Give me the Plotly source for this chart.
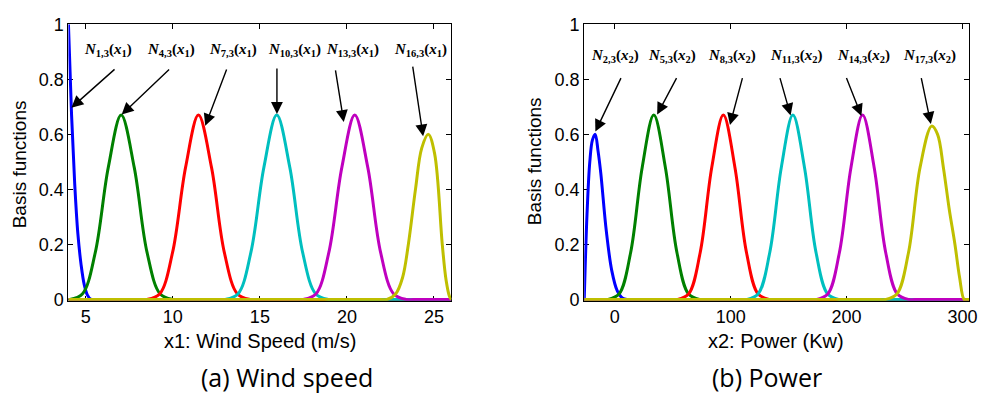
import plotly.graph_objects as go

W, H = 989, 410

# ---------------- data ----------------
# (a) wind speed, x1 domain
x1_range = [4.0, 26.0]
x1_ticks = [5, 10, 15, 20, 25]
bump_y = [0.0, 0.0, 0.02, 0.17, 0.48, 0.67, 0.48, 0.17, 0.02, 0.0, 0.0]

a_blue_x = [4.0, 4.18, 4.36, 4.54, 4.73, 4.91, 5.09, 5.27, 5.45, 5.85, 26.0]
a_blue_y = [1.0, 0.67, 0.42, 0.24, 0.125, 0.053, 0.016, 0.002, 0.0, 0.0, 0.0]
a_green_x = [4.0, 4.05, 4.80, 5.54, 6.29, 7.03, 7.78, 8.52, 9.27, 10.01, 10.41, 26.0]
a_green_y = [0.0] + bump_y[1:] + [0.0]
a_red_x = [4.0, 8.09, 8.49, 9.24, 9.98, 10.73, 11.47, 12.22, 12.96, 13.71, 14.45, 14.85, 26.0]
a_red_y = [0.0] + bump_y + [0.0]
a_cyan_x = [4.0, 12.59, 12.99, 13.74, 14.48, 15.23, 15.97, 16.72, 17.46, 18.21, 18.95, 19.35, 26.0]
a_cyan_y = [0.0] + bump_y + [0.0]
a_mag_x = [4.0, 17.07, 17.47, 18.22, 18.96, 19.71, 20.45, 21.20, 21.94, 22.69, 23.43, 23.83, 26.0]
a_mag_y = [0.0] + bump_y + [0.0]
a_yel_x = [4.0, 21.9, 22.3, 22.8, 23.2, 23.53, 23.94, 24.3, 24.68, 25.04, 25.48, 25.7, 25.9, 26.0]
a_yel_y = [0.0, 0.0, 0.0, 0.02, 0.08, 0.2, 0.4, 0.55, 0.60, 0.53, 0.2, 0.07, 0.01, 0.0]

# (b) power, x2 domain
x2_range = [-26.3, 305.7]
x2_ticks = [0, 100, 200, 300]
b_blue_x = [-26.3, -23.9, -21.5, -19.2, -16.8, -14.4, -12.05, -7.3, -2.55, 2.2, 6.95, 11.7, 16.7, 305.7]
b_blue_y = [0.0, 0.31, 0.50, 0.58, 0.60, 0.54, 0.46, 0.25, 0.105, 0.031, 0.004, 0.0, 0.0, 0.0]
b_green_x = [-26.3, -11.3, -6.3, 3.7, 13.7, 23.7, 33.7, 43.7, 53.7, 63.7, 73.7, 78.7, 305.7]
b_green_y = [0.0] + bump_y + [0.0]
b_red_x = [-26.3, 48.7, 53.7, 63.7, 73.7, 83.7, 93.7, 103.7, 113.7, 123.7, 133.7, 138.7, 305.7]
b_red_y = [0.0] + bump_y + [0.0]
b_cyan_x = [-26.3, 108.7, 113.7, 123.7, 133.7, 143.7, 153.7, 163.7, 173.7, 183.7, 193.7, 198.7, 305.7]
b_cyan_y = [0.0] + bump_y + [0.0]
b_mag_x = [-26.3, 168.8, 173.8, 183.8, 193.8, 203.8, 213.8, 223.8, 233.8, 243.8, 253.8, 258.8, 305.7]
b_mag_y = [0.0] + bump_y + [0.0]
b_yel_x = [-26.3, 228.4, 233.4, 243.4, 253.4, 263.4, 273.4, 278.5, 283.5, 288.5, 293.5, 297.5, 301.4, 303.5, 305.7]
b_yel_y = [0.0, 0.0, 0.0, 0.02, 0.17, 0.48, 0.63, 0.60, 0.48, 0.33, 0.20, 0.08, 0.0, 0.0, 0.0]

y_ticks = [0, 0.2, 0.4, 0.6, 0.8, 1]
y_range = [-0.005, 1.0]
colors = ["#0000ff", "#008000", "#ff0000", "#00bfbf", "#bf00bf", "#bfbf00"]

# labels: (subscript, variable index, label_x, label_y, tail_x, tail_y, tip_x, tip_y)
a_labels = [
    ("1,3", "1", 6.28, 0.905, 6.735, 0.841, 4.17, 0.697),
    ("4,3", "1", 9.87, 0.905, 9.87, 0.841, 7.06, 0.672),
    ("7,3", "1", 13.46, 0.905, 13.12, 0.841, 11.86, 0.631),
    ("10,3", "1", 16.99, 0.905, 15.98, 0.845, 15.98, 0.674),
    ("13,3", "1", 20.30, 0.905, 19.33, 0.838, 19.82, 0.645),
    ("16,3", "1", 24.23, 0.905, 23.77, 0.852, 24.38, 0.593),
]
b_labels = [
    ("2,3", "2", 0.0, 0.886, 6.0, 0.810, -16.7, 0.610),
    ("5,3", "2", 49.7, 0.886, 54.0, 0.810, 36.6, 0.672),
    ("8,3", "2", 101.1, 0.886, 110.5, 0.810, 99.4, 0.634),
    ("11,3", "2", 156.0, 0.886, 142.2, 0.810, 151.7, 0.669),
    ("14,3", "2", 214.2, 0.886, 199.4, 0.810, 212.8, 0.667),
    ("17,3", "2", 271.6, 0.886, 264.2, 0.810, 272.7, 0.638),
]

# ---------------- figure ----------------
fig = go.Figure()
a_series = [(a_blue_x, a_blue_y), (a_green_x, a_green_y), (a_red_x, a_red_y),
            (a_cyan_x, a_cyan_y), (a_mag_x, a_mag_y), (a_yel_x, a_yel_y)]
b_series = [(b_blue_x, b_blue_y), (b_green_x, b_green_y), (b_red_x, b_red_y),
            (b_cyan_x, b_cyan_y), (b_mag_x, b_mag_y), (b_yel_x, b_yel_y)]
for (xs, ys), c in zip(a_series, colors):
    fig.add_trace(go.Scatter(x=xs, y=ys, mode="lines", line=dict(color=c, width=3, shape="spline", smoothing=1.0),
                             xaxis="x", yaxis="y", showlegend=False, hoverinfo="skip"))
for (xs, ys), c in zip(b_series, colors):
    fig.add_trace(go.Scatter(x=xs, y=ys, mode="lines", line=dict(color=c, width=3, shape="spline", smoothing=1.0),
                             xaxis="x2", yaxis="y2", showlegend=False, hoverinfo="skip"))

pl, pr = 69, 455
ql, qr = 589, 977
top, bot = 15, 305
ydom = [1 - bot / H, 1 - top / H]
tickfont = dict(family="Liberation Sans", size=18, color="black")
axcommon = dict(showgrid=False, zeroline=False, showline=True, linecolor="black", linewidth=1,
                mirror="ticks", ticks="inside", ticklen=5, tickcolor="black", tickfont=tickfont,
                layer="below traces")

fig.update_layout(
    width=W, height=H, margin=dict(l=0, r=0, t=0, b=0),
    paper_bgcolor="white", plot_bgcolor="white", showlegend=False,
    xaxis=dict(domain=[pl / W, pr / W], range=x1_range, tickvals=x1_ticks, anchor="y", **axcommon),
    yaxis=dict(domain=ydom, range=y_range, tickvals=y_ticks, anchor="x", **axcommon),
    xaxis2=dict(domain=[ql / W, qr / W], range=x2_range, tickvals=x2_ticks, anchor="y2", **axcommon),
    yaxis2=dict(domain=ydom, range=y_range, tickvals=y_ticks, anchor="x2", **axcommon),
)

labfont = dict(family="Liberation Serif", size=15, color="black")
for labels, xr, yr in ((a_labels, "x", "y"), (b_labels, "x2", "y2")):
    for sub, xs, lx, ly, tx, ty, hx, hy in labels:
        txt = "<b><i>N</i><sub>%s</sub>(<i>x</i><sub>%s</sub>)</b>" % (sub, xs)
        fig.add_annotation(x=lx, y=ly, xref=xr, yref=yr, text=txt, showarrow=False,
                           font=labfont, xanchor="center", yanchor="middle")
        fig.add_annotation(x=hx, y=hy, xref=xr, yref=yr, ax=tx, ay=ty, axref=xr, ayref=yr,
                           text="", showarrow=True, arrowhead=2, arrowsize=1.7, arrowwidth=1.4,
                           arrowcolor="black", standoff=0, startstandoff=0)

titlefont = dict(family="Liberation Sans", size=20, color="black")
ytitlefont = dict(family="Liberation Sans", size=19, color="black")
capfont = dict(family="Open Sans", size=25, color="black")
texts = [
    ("Basis functions", 20, 162, -90, ytitlefont),
    ("Basis functions", 539, 159, -90, ytitlefont),
    ("x1: Wind Speed (m/s)", 262, 347, 0, titlefont),
    ("x2: Power (Kw)", 782, 347, 0, titlefont),
    ("(a) Wind speed", 289, 385, 0, capfont),
    ("(b) Power", 773, 385, 0, capfont),
]
for t, px, py, ang, f in texts:
    fig.add_annotation(x=px / W, y=1 - py / H, xref="paper", yref="paper", text=t, showarrow=False,
                       textangle=ang, font=f, xanchor="center", yanchor="middle")

fig.write_html("out.html")
